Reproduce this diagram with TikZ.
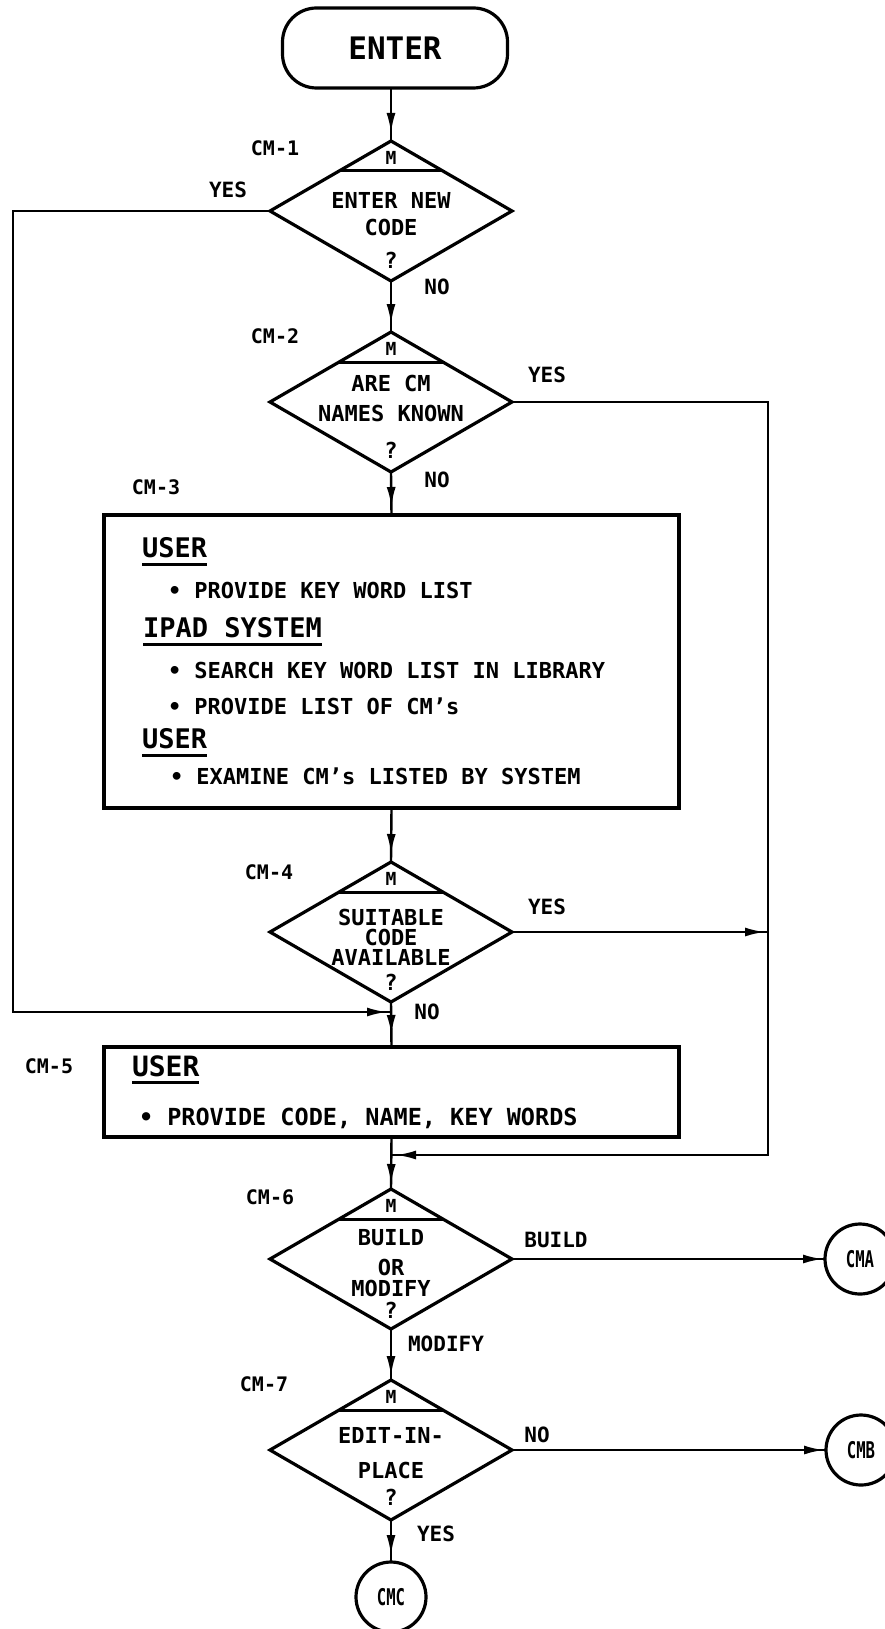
\documentclass[tikz,border=0pt]{standalone}
\usepackage{fontspec}
\setmainfont{DejaVu Sans Mono}
\usepackage{graphicx}
\usetikzlibrary{shapes.geometric,arrows.meta,decorations.markings,calc}

\tikzset{
  every node/.style={inner sep=0pt, outer sep=0pt},
  wire/.style={line width=2.4pt},
  flow/.style={decoration={markings, mark=at position -#1 with {\arrow{Latex[length=20pt,width=9pt]}}}, postaction={decorate}},
  terminal/.style={draw, line width=3.2pt, rounded corners=34pt, minimum width=225pt, minimum height=80pt, font=\fontsize{31}{31}\selectfont\bfseries},
  decision/.style={diamond, draw, line width=3.2pt, minimum width=242pt, minimum height=140pt},
  procbox/.style={draw, line width=3.2pt, minimum width=575pt},
  offpage/.style={circle, draw, line width=3.2pt, minimum size=70pt, font=\fontsize{23}{23}\selectfont\bfseries},
  qtext/.style={font=\fontsize{22}{22}\selectfont\bfseries},
  mtext/.style={font=\fontsize{18}{18}\selectfont\bfseries},
  steplabel/.style={font=\fontsize{20}{20}\selectfont\bfseries},
  branch/.style={font=\fontsize{21}{21}\selectfont\bfseries},
  heading/.style={font=\fontsize{27}{27}\selectfont\bfseries, anchor=west},
  item/.style={font=\fontsize{22}{22}\selectfont\bfseries, anchor=west},
  underline/.style={line width=3pt},
}
\newcommand\narrowtext[1]{\scalebox{0.68}[1]{#1}}

\begin{document}
\begin{tikzpicture}[x=1pt, y=-1pt]
  \fill[white] (0,0) rectangle (885,1629);
  \useasboundingbox (0,0) rectangle (885,1629);

  % ---- shapes ----
  \node[terminal] (enter) at (395,48) {ENTER};
  \node[decision] (d1) at (391,211) {};
  \node[decision] (d2) at (391,402) {};
  \node[procbox, minimum height=293pt] (b3) at (391.5,661.5) {};
  \node[decision] (d3) at (391,932) {};
  \node[procbox, minimum height=90pt] (b5) at (391.5,1092) {};
  \node[decision] (d4) at (391,1259) {};
  \node[decision] (d5) at (391,1450) {};
  \node[offpage] (cma) at (860,1259) {\narrowtext{CMA}};
  \node[offpage] (cmb) at (861,1450) {\narrowtext{CMB}};
  \node[offpage] (cmc) at (391,1597) {\narrowtext{CMC}};

  % mode bar with "M" in the top of each decision
  \foreach \d in {d1,d2,d3,d4,d5}{
    \draw[line width=3pt] ([shift={(-52pt,-30pt)}]\d.north) -- ([shift={(52pt,-30pt)}]\d.north);
    \node[mtext] (\d m) at ([yshift=-17pt]\d.north) {M};
  }

  % ---- decision texts ----
  \node[qtext] (q1a) at (391,200) {ENTER NEW};
  \node[qtext] (q1b) at (391,227) {CODE};
  \node[qtext] (q1c) at (391,260) {?};
  \node[qtext] (q2a) at (391,383) {ARE CM};
  \node[qtext] (q2b) at (391,413) {NAMES KNOWN};
  \node[qtext] (q2c) at (391,450) {?};
  \node[qtext] (q3a) at (391,917) {SUITABLE};
  \node[qtext] (q3b) at (391,937) {CODE};
  \node[qtext] (q3c) at (391,957) {AVAILABLE};
  \node[qtext] (q3d) at (391,982) {?};
  \node[qtext] (q4a) at (391,1238) {BUILD};
  \node[qtext] (q4b) at (391,1267) {OR};
  \node[qtext] (q4c) at (391,1288) {MODIFY};
  \node[qtext] (q4d) at (391,1310) {?};
  \node[qtext] (q5a) at (391,1435) {EDIT-IN-};
  \node[qtext] (q5b) at (391,1470) {PLACE};
  \node[qtext] (q5c) at (391,1497) {?};

  % ---- CM-3 box contents ----
  \node[heading] (u1) at (142,548) {USER};
  \draw[underline] ([yshift=-6pt]u1.south west) -- ([yshift=-6pt]u1.south east);
  \node[item] (i1) at (168,590) {• PROVIDE KEY WORD LIST};
  \node[heading] (ipad) at (143,628) {IPAD SYSTEM};
  \draw[underline] ([yshift=-6pt]ipad.south west) -- ([yshift=-6pt]ipad.south east);
  \node[item] (i2) at (168,670) {• SEARCH KEY WORD LIST IN LIBRARY};
  \node[item] (i3) at (168,706) {• PROVIDE LIST OF CM's};
  \node[heading] (u2) at (142,739) {USER};
  \draw[underline] ([yshift=-6pt]u2.south west) -- ([yshift=-6pt]u2.south east);
  \node[item] (i4) at (170,776) {• EXAMINE CM's LISTED BY SYSTEM};

  % ---- CM-5 box contents ----
  \node[heading, font=\fontsize{28}{28}\selectfont\bfseries] (u3) at (132,1066) {USER};
  \draw[underline] ([yshift=-6pt]u3.south west) -- ([yshift=-6pt]u3.south east);
  \node[item, font=\fontsize{23.5}{23.5}\selectfont\bfseries] (i5) at (139,1118) {• PROVIDE CODE, NAME, KEY WORDS};

  % ---- step labels ----
  \node[steplabel] (s1) at (275,148) {CM-1};
  \node[steplabel] (s2) at (275,336) {CM-2};
  \node[steplabel] (s3) at (156,487) {CM-3};
  \node[steplabel] (s4) at (269,872) {CM-4};
  \node[steplabel] (s5) at (49,1066) {CM-5};
  \node[steplabel] (s6) at (270,1197) {CM-6};
  \node[steplabel] (s7) at (264,1384) {CM-7};

  % ---- junction points ----
  \coordinate (j1) at (391,1012);
  \coordinate (j2) at (391,1155);
  \coordinate (lx) at (13,1012);
  \coordinate (rx) at (768,1155);

  % ---- connectors ----
  \draw[wire, flow=8pt] (enter.south -| d1.north) -- (d1.north);
  \draw[wire, flow=8pt] (d1.south) -- (d2.north);
  \draw[wire, flow=8pt] (d2.south) -- (b3.north);
  \draw[wire, flow=8pt] (b3.south) -- (d3.north);
  \draw[wire, flow=12pt] (d3.south) -- (b5.north);
  \draw[wire, flow=5pt] (b5.south) -- (d4.north);
  \draw[wire, flow=4pt] (d4.south) -- (d5.north);
  \draw[wire, flow=7pt] (d5.south) -- (cmc.north);
  \draw[wire, flow=4pt] (d1.west) -| (lx) -- (j1);
  \draw[wire, flow=5pt] (d2.east) -| (rx) -- (j2);
  \draw[wire, flow=3pt] (d3.east) -- (d3.east -| rx);
  \draw[wire, flow=2pt] (d4.east) -- (cma.west);
  \draw[wire, flow=2pt] (d5.east) -- (cmb.west);

  % ---- branch labels ----
  \node[branch] (y1) at (228,190) {YES};
  \node[branch] (n1) at (437,287) {NO};
  \node[branch] (y2) at (547,375) {YES};
  \node[branch] (n2) at (437,480) {NO};
  \node[branch] (y3) at (547,907) {YES};
  \node[branch] (n3) at (427,1012) {NO};
  \node[branch] (bl) at (556,1240) {BUILD};
  \node[branch] (ml) at (446,1344) {MODIFY};
  \node[branch] (n5) at (537,1435) {NO};
  \node[branch] (y5) at (436,1534) {YES};
\end{tikzpicture}
\end{document}
